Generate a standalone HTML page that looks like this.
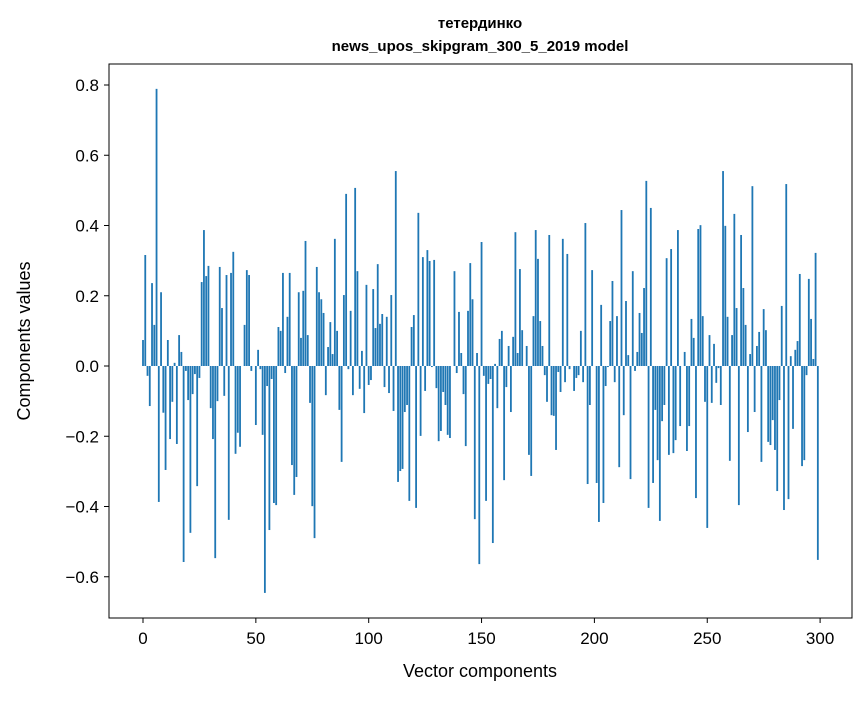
<!DOCTYPE html>
<html><head><meta charset="utf-8">
<style>
html,body{margin:0;padding:0;background:#fff;}
svg text{font-family:"Liberation Sans","DejaVu Sans",sans-serif;fill:#000;}
</style></head>
<body>
<svg id="chart" width="867" height="696" viewBox="0 0 867 696" xmlns="http://www.w3.org/2000/svg">
<rect width="867" height="696" fill="#fff"/>
<text x="480" y="28" font-size="15" font-weight="bold" text-anchor="middle">тетердинко</text>
<text x="480" y="51" font-size="15" font-weight="bold" text-anchor="middle">news_upos_skipgram_300_5_2019 model</text>
<g id="bars"></g>
<g id="axes"></g>
<rect x="109" y="64" width="743" height="554" fill="none" stroke="#000" stroke-width="1"/>
<text x="480" y="677" font-size="18" text-anchor="middle">Vector components</text>
<text transform="translate(30,341) rotate(-90)" font-size="18" text-anchor="middle">Components values</text>
</svg>
<script>
const values = [0.074,0.316,-0.028,-0.114,0.236,0.117,0.789,-0.387,0.21,-0.133,
-0.296,0.074,-0.208,-0.102,0.009,-0.222,0.088,0.04,-0.558,-0.014,
-0.097,-0.475,-0.08,-0.023,-0.342,-0.034,0.239,0.387,0.256,0.285,
-0.12,-0.208,-0.547,-0.1,0.282,0.165,-0.085,0.259,-0.438,0.265,
0.325,-0.25,-0.19,-0.23,0,0.117,0.273,0.259,-0.014,0,
-0.168,0.046,-0.009,-0.196,-0.646,-0.057,-0.467,-0.037,-0.39,-0.396,
0.111,0.1,0.265,-0.02,0.14,0.265,-0.282,-0.367,-0.316,0.21,
0.08,0.214,0.356,0.088,-0.105,-0.399,-0.49,0.282,0.21,0.19,
0.151,-0.083,0.054,0.125,0.034,0.362,0.1,-0.125,-0.273,0.202,
0.49,-0.009,0.157,-0.083,0.507,0.27,-0.065,0.043,-0.134,0.231,
-0.054,-0.04,0.219,0.108,0.29,0.12,0.148,-0.06,0.14,-0.077,
0.202,-0.128,0.555,-0.33,-0.299,-0.293,-0.131,-0.111,-0.384,0.111,
0.145,-0.404,0.436,-0.199,0.31,-0.071,0.33,0.299,-0.003,0.302,
-0.063,-0.214,-0.185,-0.074,-0.111,-0.196,-0.205,0,0.27,-0.02,
0.154,0.037,-0.08,-0.228,0.157,0.293,0.19,-0.436,0.037,-0.564,
0.353,-0.028,-0.384,-0.051,-0.037,-0.504,0.006,-0.12,0.077,0.1,
-0.325,-0.06,0.057,-0.131,0.083,0.381,0.037,0.276,0.102,0,
0.057,-0.253,-0.313,0.142,0.387,0.305,0.128,0.057,-0.026,-0.102,
0.373,-0.14,-0.142,-0.239,-0.017,-0.074,0.362,-0.046,0.319,-0.009,
0,-0.071,-0.034,-0.026,0.1,-0.046,0.407,-0.336,-0.111,0.273,
0,-0.333,-0.444,0.174,-0.39,-0.057,-0.003,0.128,0.242,-0.046,
0.142,-0.288,0.444,-0.14,0.185,0.031,-0.322,0.27,-0.014,0.04,
0.151,0.094,0.222,0.527,-0.404,0.45,-0.333,-0.125,-0.268,-0.441,
-0.157,-0.111,0.307,-0.253,0.333,-0.248,-0.211,0.387,-0.171,0,
0.04,-0.242,-0.171,0.134,0.08,-0.376,0.39,0.401,0.142,-0.102,
-0.461,0.088,-0.105,0.063,-0.048,-0.006,-0.111,0.555,0.399,0.14,
-0.27,0.088,0.433,0.165,-0.396,0.373,0.222,0.117,-0.188,0.034,
0.512,-0.131,0.057,0.097,-0.273,0.162,0.102,-0.216,-0.225,-0.154,
-0.239,-0.356,-0.097,0.171,-0.41,0.518,-0.379,0.028,-0.179,0.046,
0.071,0.262,-0.285,-0.268,-0.026,0.248,0.134,0.02,0.322,-0.552];
const yTicks = [-0.6,-0.4,-0.2,0.0,0.2,0.4,0.6,0.8];
const yTickLabels = ["\u22120.6","\u22120.4","\u22120.2","0.0","0.2","0.4","0.6","0.8"];
const xTicks = [0,50,100,150,200,250,300];

const NS="http://www.w3.org/2000/svg";
function xs(i){return 143+2.257*i;}
function ys(v){return 366-351.25*v;}
const bw=0.8*2.257;
const bars=document.getElementById('bars');
values.forEach((v,i)=>{
  const r=document.createElementNS(NS,'rect');
  
  
  const y0=ys(0), y1=ys(v);
  r.setAttribute('x',xs(i)-bw/2);
  r.setAttribute('y',Math.min(y0,y1));
  r.setAttribute('width',bw);
  r.setAttribute('height',Math.max(Math.abs(y1-y0),0.01));
  r.setAttribute('fill','#1f77b4');
  bars.appendChild(r);
});
const axes=document.getElementById('axes');
yTicks.forEach((t,k)=>{
  const y=ys(t);
  const l=document.createElementNS(NS,'line');
  
  
  l.setAttribute('x1',104);l.setAttribute('x2',109);l.setAttribute('y1',y);l.setAttribute('y2',y);
  l.setAttribute('stroke','#000');
  axes.appendChild(l);
  const tx=document.createElementNS(NS,'text');
  
  
  tx.setAttribute('x',99);tx.setAttribute('y',y+6);
  tx.setAttribute('font-size','17');tx.setAttribute('text-anchor','end');
  tx.textContent=yTickLabels[k];
  axes.appendChild(tx);
});
xTicks.forEach(t=>{
  const x=xs(t);
  const l=document.createElementNS(NS,'line');
  
  
  l.setAttribute('x1',x);l.setAttribute('x2',x);l.setAttribute('y1',618);l.setAttribute('y2',623);
  l.setAttribute('stroke','#000');
  axes.appendChild(l);
  const tx=document.createElementNS(NS,'text');
  
  
  tx.setAttribute('x',x);tx.setAttribute('y',644);
  tx.setAttribute('font-size','17');tx.setAttribute('text-anchor','middle');
  tx.textContent=String(t);
  axes.appendChild(tx);
});
</script>
</body></html>
